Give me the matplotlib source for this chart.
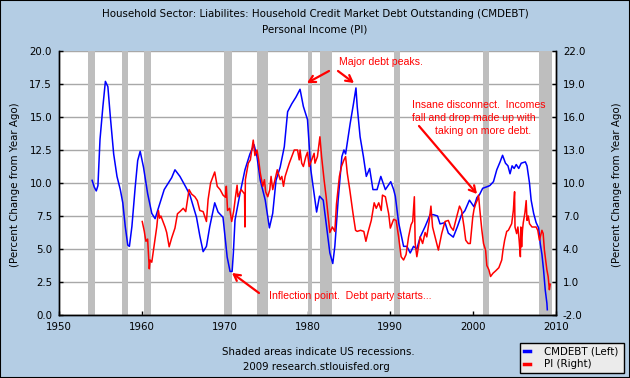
import matplotlib
matplotlib.use('Agg')
import matplotlib.pyplot as plt
from matplotlib.patches import Rectangle
from matplotlib.ticker import FormatStrFormatter, MultipleLocator

# ---------------- data ----------------
debt_years = [1954.0, 1954.25, 1954.5, 1954.7, 1954.95, 1955.3, 1955.6, 1955.75, 1955.9, 1956.2,
              1956.6, 1957.0, 1957.4, 1957.7, 1958.0, 1958.3, 1958.5, 1958.8, 1959.2, 1959.5,
              1959.8, 1960.2, 1960.7, 1961.2, 1961.6, 1962.2, 1962.7, 1963.2, 1963.6, 1964.0,
              1964.6, 1965.3, 1965.8, 1966.6, 1967.0, 1967.4, 1967.8, 1968.2, 1968.8, 1969.2,
              1969.8, 1970.05, 1970.3, 1970.65, 1970.9, 1971.05, 1971.25, 1971.85, 1972.45, 1973.05,
              1973.55, 1973.9, 1974.3, 1974.9, 1975.4, 1975.8, 1976.2, 1976.7, 1977.2, 1977.6,
              1978.1, 1978.6, 1979.1, 1979.5, 1980.0, 1980.4, 1980.8, 1981.1, 1981.45, 1981.9,
              1982.4, 1982.7, 1983.05, 1983.3, 1983.7, 1984.15, 1984.4, 1984.6, 1985.15, 1985.55,
              1985.85, 1986.0, 1986.35, 1986.75, 1987.1, 1987.5, 1987.9, 1988.4, 1988.85, 1989.4,
              1990.05, 1990.4, 1990.6, 1991.0, 1991.6, 1992.0, 1992.4, 1992.8, 1993.2, 1993.6,
              1994.2, 1994.8, 1995.2, 1995.7, 1996.0, 1996.6, 1997.0, 1997.6, 1998.1, 1998.6,
              1999.0, 1999.55, 2000.1, 2000.45, 2000.75, 2001.15, 2001.6, 2002.0, 2002.45, 2002.85,
              2003.25, 2003.55, 2003.9, 2004.2, 2004.45, 2004.7, 2004.95, 2005.2, 2005.5, 2005.8,
              2006.3, 2006.5, 2006.8, 2007.0, 2007.3, 2007.6, 2007.9, 2008.1, 2008.3, 2008.5,
              2008.7, 2008.9, 2008.95]
debt_values = [10.2, 9.7, 9.4, 9.8, 13.3, 15.8, 17.7, 17.5, 17.3, 15.0,
               12.2, 10.5, 9.5, 8.5, 6.7, 5.3, 5.2, 6.7, 9.7, 11.7,
               12.4, 11.2, 9.2, 7.7, 7.3, 8.5, 9.5, 10.0, 10.4, 11.0,
               10.5, 9.7, 9.1, 7.4, 6.0, 4.8, 5.2, 6.7, 8.5, 7.8,
               7.4, 5.9, 4.4, 3.3, 3.3, 4.7, 7.2, 9.2, 11.0, 12.2,
               12.9, 12.0, 10.2, 8.7, 6.6, 7.7, 10.2, 11.2, 12.75, 15.4,
               16.0, 16.5, 17.1, 15.8, 14.8, 11.0, 9.2, 7.8, 9.0, 8.7,
               6.2, 4.7, 3.9, 5.2, 8.7, 12.0, 12.5, 12.2, 14.5, 16.0,
               17.2, 15.8, 13.5, 12.0, 10.5, 11.1, 9.5, 9.5, 10.5, 9.5,
               10.1, 9.5, 9.0, 7.0, 5.2, 5.2, 4.7, 5.2, 5.0, 5.9,
               6.7, 7.6, 7.6, 7.5, 6.9, 7.0, 6.2, 5.9, 6.7, 7.6,
               7.9, 8.7, 8.2, 8.9, 9.1, 9.6, 9.7, 9.8, 10.1, 11.0,
               11.6, 12.1, 11.5, 11.3, 10.7, 11.3, 11.1, 11.4, 11.1, 11.5,
               11.6, 11.3, 10.0, 8.7, 7.7, 7.0, 6.6, 5.4, 4.6, 3.4,
               1.9, 0.9, 0.4]

pi_years = [1960.05, 1960.3, 1960.4, 1960.5, 1960.7, 1960.9, 1961.0, 1961.2, 1961.5, 1961.8,
            1962.0, 1962.15, 1962.3, 1962.5, 1962.8, 1963.0, 1963.3, 1963.6, 1964.0, 1964.3,
            1964.6, 1965.0, 1965.3, 1965.7, 1966.0, 1966.4, 1966.7, 1967.0, 1967.4, 1967.8,
            1968.0, 1968.3, 1968.6, 1968.8, 1969.1, 1969.45, 1969.8, 1970.1, 1970.2, 1970.35,
            1970.6, 1970.85, 1971.1, 1971.3, 1971.5, 1971.6, 1972.0, 1972.4, 1972.45, 1972.5,
            1972.85, 1973.1, 1973.45, 1973.65, 1973.9, 1974.1, 1974.3, 1974.6, 1974.8, 1974.95,
            1975.2, 1975.45, 1975.6, 1975.8, 1976.35, 1976.7, 1976.9, 1977.1, 1977.3, 1977.8,
            1978.1, 1978.4, 1978.8, 1979.0, 1979.1, 1979.3, 1979.5, 1979.8, 1980.0, 1980.2,
            1980.5, 1980.8, 1980.9, 1981.2, 1981.5, 1981.7, 1982.0, 1982.25, 1982.5, 1982.7,
            1983.0, 1983.3, 1983.5, 1983.85, 1984.1, 1984.4, 1984.6, 1984.8, 1985.1, 1985.5,
            1985.8, 1986.0, 1986.4, 1986.8, 1987.05, 1987.3, 1987.7, 1988.05, 1988.3, 1988.6,
            1988.9, 1989.05, 1989.4, 1989.8, 1990.0, 1990.4, 1990.7, 1991.0, 1991.3, 1991.6,
            1991.9, 1992.2, 1992.5, 1992.7, 1992.9, 1993.0, 1993.2, 1993.6, 1993.9, 1994.2,
            1994.4, 1994.7, 1994.9, 1995.1, 1995.4, 1995.8, 1996.2, 1996.6, 1997.0, 1997.3,
            1997.6, 1998.0, 1998.35, 1998.6, 1998.9, 1999.1, 1999.4, 1999.65, 1999.95, 2000.1,
            2000.3, 2000.5, 2000.65, 2000.8, 2001.05, 2001.25, 2001.5, 2001.65, 2001.9, 2002.1,
            2002.4, 2002.7, 2003.1, 2003.45, 2003.6, 2003.8, 2004.05, 2004.25, 2004.45, 2004.65,
            2004.85, 2005.0, 2005.05, 2005.25, 2005.4, 2005.55, 2005.7, 2005.75, 2005.85, 2005.95,
            2006.05, 2006.25, 2006.4, 2006.5, 2006.65, 2006.8, 2007.1, 2007.4, 2007.6, 2007.8,
            2008.0, 2008.3, 2008.45, 2008.6, 2008.9, 2009.05, 2009.2, 2009.3]
pi_values = [6.5, 5.6, 5.1, 4.7, 4.9, 2.2, 3.0, 2.8, 4.4, 6.0,
             7.5, 6.8, 7.0, 6.6, 6.0, 5.5, 4.2, 5.0, 5.9, 7.2,
             7.4, 7.7, 7.4, 9.4, 9.0, 8.75, 8.4, 7.5, 7.4, 6.5,
             8.5, 10.0, 10.6, 11.0, 9.7, 9.4, 8.9, 8.7, 9.7, 7.5,
             7.7, 6.5, 7.5, 8.7, 9.8, 8.75, 9.4, 9.0, 6.0, 10.3,
             11.8, 12.1, 13.9, 12.5, 13.0, 12.1, 10.9, 9.7, 10.3, 9.2,
             8.75, 9.4, 10.6, 9.4, 11.2, 10.3, 10.6, 9.7, 10.6, 11.8,
             12.4, 13.0, 13.0, 12.1, 13.0, 11.8, 11.5, 12.4, 12.8, 11.5,
             12.1, 12.7, 11.8, 12.4, 14.2, 12.4, 10.3, 8.75, 6.9, 5.5,
             6.0, 5.6, 8.1, 10.6, 11.5, 12.1, 12.4, 10.9, 9.4, 7.2,
             5.7, 5.6, 5.7, 5.6, 4.7, 5.5, 6.6, 8.2, 7.7, 8.2,
             7.5, 8.9, 8.75, 7.2, 5.9, 6.7, 6.6, 5.1, 3.3, 3.0,
             3.5, 5.1, 6.2, 6.5, 8.75, 4.5, 3.3, 5.1, 4.5, 5.5,
             5.1, 6.6, 7.9, 6.0, 5.1, 3.9, 5.4, 6.5, 6.6, 6.0,
             5.7, 6.9, 7.9, 7.5, 6.0, 4.8, 4.5, 4.5, 6.9, 7.6,
             8.1, 8.45, 8.9, 7.6, 5.7, 4.5, 3.9, 2.5, 2.1, 1.5,
             1.8, 2.0, 2.3, 3.0, 3.9, 4.8, 5.6, 5.7, 6.0, 6.3,
             7.5, 9.2, 6.0, 5.4, 6.0, 4.8, 3.3, 6.0, 4.2, 5.7,
             6.4, 7.3, 8.4, 6.6, 7.0, 6.3, 6.0, 6.0, 6.0, 5.7,
             4.8, 5.7, 5.4, 3.9, 2.1, 1.5, 0.3, 0.8]

recession_starts = [1953.5, 1957.6, 1960.3, 1969.9, 1973.85, 1980.0, 1981.5, 1990.5, 2001.2, 2007.95]
recession_ends = [1954.4, 1958.3, 1961.15, 1970.9, 1975.2, 1980.55, 1982.9, 1991.2, 2001.9, 2009.5]

x_ticks = [1950, 1960, 1970, 1980, 1990, 2000, 2010]
left_ticks = [0.0, 2.5, 5.0, 7.5, 10.0, 12.5, 15.0, 17.5, 20.0]
right_ticks = [-2.0, 1.0, 4.0, 7.0, 10.0, 13.0, 16.0, 19.0, 22.0]

title_lines = ["Household Sector: Liabilites: Household Credit Market Debt Outstanding (CMDEBT)",
               "Personal Income (PI)"]
ylabel_text = "(Percent Change from Year Ago)"
series_labels = ["CMDEBT (Left)", "PI (Right)"]

# ---------------- layout ----------------
W, H = 630, 378
BG = '#B4CDE4'
FS = 7.4
ANN_FONT = 'Liberation Sans'


def fx(px):
    return px / W


def fy(py):
    return 1 - py / H


fig = plt.figure(figsize=(W / 100, H / 100), dpi=100, facecolor=BG)
plt.rcParams['font.family'] = ['DejaVu Sans']

ax = fig.add_axes([fx(59), fy(315), fx(556) - fx(59), fy(51) - fy(315)])
ax.set_facecolor('white')
ax.set_xlim(1950, 2010)
ax.set_ylim(0, 20)
ax2 = ax.twinx()
ax2.set_ylim(-2, 22)

for s, e in zip(recession_starts, recession_ends):
    ax.axvspan(s, e, color='#BEBEBE', lw=0, zorder=1)

ax.set_yticks(left_ticks)
ax.set_xticks(x_ticks)
ax2.set_yticks(right_ticks)
ax.yaxis.set_major_formatter(FormatStrFormatter('%.1f'))
ax2.yaxis.set_major_formatter(FormatStrFormatter('%.1f'))
ax.grid(axis='y', color='#A8A8A8', lw=1, zorder=0)
ax.set_axisbelow(True)

l1, = ax.plot(debt_years, debt_values, color='#0000FF', lw=1.1, zorder=3, label=series_labels[0])
l2, = ax2.plot(pi_years, pi_values, color='#FF0000', lw=1.1, zorder=3, label=series_labels[1])

for a in (ax, ax2):
    a.spines['top'].set_visible(False)
    for sp in ('left', 'right', 'bottom'):
        a.spines[sp].set_color('black')
        a.spines[sp].set_linewidth(1)
ax.tick_params(axis='both', direction='in', length=3, width=1, labelsize=FS, colors='black')
ax.tick_params(axis='y', pad=5)
ax.tick_params(axis='x', pad=5)
ax2.tick_params(axis='y', direction='in', length=3, width=1, labelsize=FS, pad=5)

# titles / labels
fig.text(0.5, fy(14), title_lines[0], ha='center', va='center', fontsize=FS)
fig.text(0.5, fy(30), title_lines[1], ha='center', va='center', fontsize=FS)
fig.text(fx(15), fy(185), ylabel_text, rotation=90, ha='center', va='center', fontsize=FS)
fig.text(fx(617), fy(185), ylabel_text, rotation=90, ha='center', va='center', fontsize=FS)
fig.text(fx(318), fy(352), "Shaded areas indicate US recessions.", ha='center', va='center', fontsize=FS)
fig.text(fx(316), fy(367), "2009 research.stlouisfed.org", ha='center', va='center', fontsize=FS)

# legend
leg = fig.legend([l1, l2], series_labels, loc='lower left',
                 bbox_to_anchor=(fx(520), fy(373), fx(624) - fx(520), fy(342) - fy(373)),
                 mode='expand', fontsize=FS, handlelength=0.6, handletextpad=1.4,
                 borderaxespad=0, borderpad=0.35, labelspacing=0.25, fancybox=False,
                 facecolor='#EBEBEB', edgecolor='black', framealpha=1)
leg.get_frame().set_linewidth(1)
for ln in leg.get_lines():
    ln.set_linewidth(2.5)

# annotations
arrow = dict(arrowstyle='->,head_length=0.45,head_width=0.25', color='red', lw=1.6,
             shrinkA=0, shrinkB=0)
ann_kw = dict(color='red', fontsize=7.6, family=ANN_FONT, va='center', ha='left')
fig.text(fx(339), fy(62), "Major debt peaks.", **ann_kw)
fig.text(fx(269), fy(296), "Inflection point.  Debt party starts...", **ann_kw)
fig.text(fx(412), fy(105), "Insane disconnect.  Incomes", **ann_kw)
fig.text(fx(412), fy(118), "fall and drop made up with", **ann_kw)
fig.text(fx(435), fy(131), "taking on more debt.", **ann_kw)

for (x0, y0), (x1, y1) in [((329, 71), (307, 83)), ((338, 71), (354, 83)),
                           ((259, 293), (232, 273)), ((419, 126), (477, 194))]:
    ax.annotate('', xy=(fx(x1), fy(y1)), xycoords='figure fraction',
                xytext=(fx(x0), fy(y0)), textcoords='figure fraction',
                arrowprops=arrow, zorder=5)

# figure border
fig.patches.append(Rectangle((0, 0), 1, 1, transform=fig.transFigure, fill=False,
                             edgecolor='black', lw=1.5))

fig.savefig('out.png', dpi=100, facecolor=BG)
